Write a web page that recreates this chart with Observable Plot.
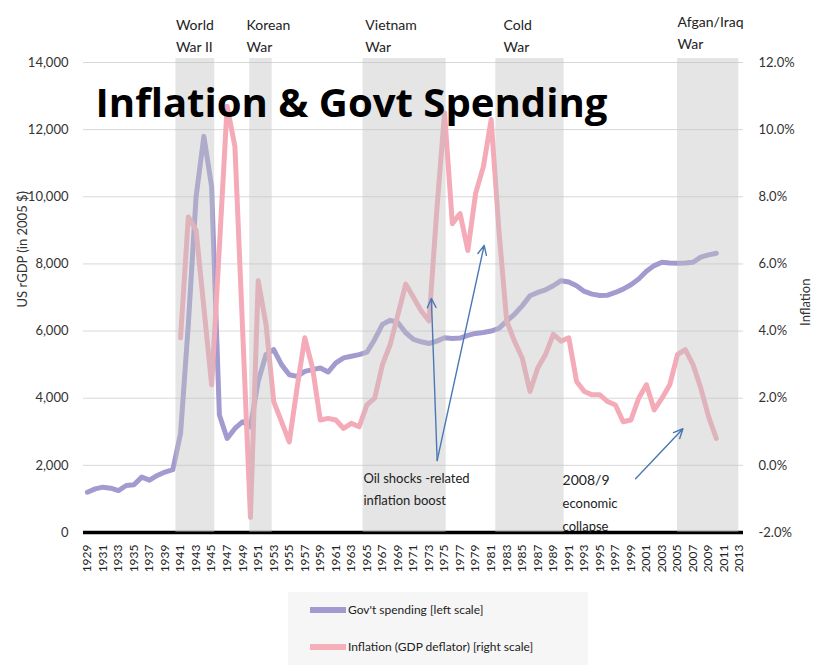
<!DOCTYPE html>
<html><head><meta charset="utf-8">
<script src="https://cdn.jsdelivr.net/npm/d3@7"></script>
<script src="https://cdn.jsdelivr.net/npm/@observablehq/plot@0.6"></script>
<style>
body{margin:0;background:#fff;font-family:Lato,"DejaVu Sans",sans-serif;}
#wrap{position:relative;width:817px;height:665px;overflow:hidden;}
#legend{position:absolute;left:288px;top:592px;width:300px;height:73px;background:#f6f6f6;font-size:12px;color:#222;}
.item{position:absolute;left:22px;display:flex;align-items:center;}
.sw{width:36px;height:6px;margin-right:2px;}
</style></head><body>
<div id="wrap"><div id="chart"></div>
<div id="legend">
<div class="item" style="top:10px"><div class="sw" style="background:#a29bd0"></div><span>Gov't spending [left scale]</span></div>
<div class="item" style="top:47px"><div class="sw" style="background:#f5b0bc"></div><span>Inflation (GDP deflator) [right scale]</span></div>
</div></div>
<script>
// ---- data ----
const spendStart = 1929;
const spending = [1200,1300,1350,1320,1250,1400,1420,1650,1560,1700,1800,1870, // 1929-1940
  2950,6200,10000,11800,10300,3500,2800,3100,3300,3150, // 1941-1950
  4500,5300,5450,5000,4700,4650,4800,4850,4900,4780, // 1951-1960
  5050,5200,5250,5300,5370,5750,6200,6320,6250,5950, // 1961-1970
  5750,5680,5630,5700,5800,5780,5790,5870,5930,5960, // 1971-1980
  6000,6080,6300,6500,6750,7050,7150,7230,7350,7500, // 1981-1990
  7460,7350,7180,7100,7060,7070,7150,7250,7380,7550, // 1991-2000
  7780,7950,8050,8030,8020,8030,8050,8200,8270,8320]; // 2001-2010
const inflStart = 1941;
const inflation = [3.8,7.4,7.0,4.7,2.4,6.5,10.7,9.5,4.0,-1.55, // 1941-1950
  5.5,4.2,1.9,1.3,0.7,2.3,3.8,2.9,1.35,1.4, // 1951-1960
  1.35,1.1,1.25,1.15,1.8,2.0,3.0,3.6,4.5,5.4, // 1961-1970
  5.0,4.6,4.3,7.6,10.5,7.2,7.5,6.4,8.1,8.9, // 1971-1980
  10.3,7.0,4.3,3.7,3.2,2.2,2.9,3.3,3.9,3.7, // 1981-1990
  3.8,2.5,2.2,2.1,2.1,1.9,1.8,1.3,1.35,2.0, // 1991-2000
  2.4,1.65,2.0,2.4,3.3,3.45,3.0,2.3,1.45,0.8]; // 2001-2010
const xTicks = d3.range(1929, 2014, 2);
const leftTicks = [0,2000,4000,6000,8000,10000,12000,14000];
const rightTickLabels = ["-2.0%","0.0%","2.0%","4.0%","6.0%","8.0%","10.0%","12.0%"];
const warStart = [1940.4, 1949.9, 1964.5, 1981.6, 2005.0];
const warEnd   = [1945.4, 1952.8, 1975.2, 1990.4, 2012.9];
const warLine1 = ["World","Korean","Vietnam","Cold","Afgan/Iraq"];
const warLine2 = ["War II","War","War","War","War"];
const warLabelX = [1940.4, 1949.5, 1964.8, 1982.6, 2005.0];
const arrowX1 = [1974.05, 1974.05, 1999.6];
const arrowY1 = [2146, 2146, 1600];
const arrowX2 = [1973.3, 1980.1, 2005.7];
const arrowY2 = [6975, 8554, 3090];
const noteText = ["Oil shocks -related","inflation boost","2008/9","economic","collapse"];
const noteX = [1964.55, 1964.55, 1990.2, 1990.2, 1990.2];
const noteY = [1608, 953, 1549, 864, 179];
const noteSize = [13, 13, 14, 13, 13];

// ---- tables ----
const spendData = spending.map((v,i)=>({year: spendStart+i, v}));
const inflData = inflation.map((p,i)=>({year: inflStart+i, v:(p+2)*1000}));
const wars = warStart.map((s,i)=>({s, e: warEnd[i], l1: warLine1[i], l2: warLine2[i], lx: warLabelX[i]}));
const arrows = arrowX1.map((x,i)=>({x1:x, y1:arrowY1[i], x2:arrowX2[i], y2:arrowY2[i]}));
const notes = noteText.map((t,i)=>({t, x: noteX[i], y: noteY[i], s: noteSize[i]}));
const pctOf = d => rightTickLabels[leftTicks.indexOf(d)];

const plot = Plot.plot({
  width: 817, height: 590,
  marginLeft: 83, marginRight: 74, marginTop: 62, marginBottom: 58,
  style: {fontFamily: "Lato, sans-serif", fontSize: "13px", color: "#333", overflow: "visible"},
  x: {domain: [1928.5, 2013.5]},
  y: {domain: [0, 14000]},
  marks: [
    Plot.gridY(leftTicks.filter(d=>d>0), {stroke: "#d8d8d8", strokeOpacity: 1}),
    Plot.ruleY([0], {stroke: "#000", strokeWidth: 3.5}),
    Plot.line(spendData, {x: "year", y: "v", stroke: "#a29bd0", strokeWidth: 5}),
    Plot.line(inflData, {x: "year", y: "v", stroke: "#f5aab8", strokeWidth: 5}),
    Plot.rect(wars, {x1: "s", x2: "e", y1: 0, y2: 14120, fill: "#c2c2c2", fillOpacity: 0.42}),
    Plot.axisX(xTicks, {tickRotate: -90, tickSize: 0, tickPadding: 12, tickFormat: d=>String(d), label: null, fontSize: 12, fill: "#222"}),
    Plot.axisY(leftTicks, {anchor: "left", tickSize: 0, tickPadding: 15, tickFormat: d3.format(","), label: null, fill: "#333"}),
    Plot.axisY(leftTicks, {anchor: "right", tickSize: 0, tickPadding: 15, tickFormat: pctOf, label: null, fill: "#333"}),
    Plot.text(["US rGDP (in 2005 $)"], {frameAnchor: "left", dx: -61, dy: 10, rotate: -90, fontSize: 13, fill: "#333"}),
    Plot.text(["Inflation"], {frameAnchor: "right", dx: 62, dy: -19, rotate: -90, fontSize: 13, fill: "#333"}),
    Plot.text(wars.slice(0,4), {x: "lx", text: "l1", frameAnchor: "top", dy: -42, textAnchor: "start", fontSize: 14, fill: "#222"}),
    Plot.text(wars.slice(0,4), {x: "lx", text: "l2", frameAnchor: "top", dy: -20, textAnchor: "start", fontSize: 14, fill: "#222"}),
    Plot.text(wars.slice(4), {x: "lx", text: "l1", frameAnchor: "top", dy: -45, textAnchor: "start", fontSize: 14, fill: "#222"}),
    Plot.text(wars.slice(4), {x: "lx", text: "l2", frameAnchor: "top", dy: -23, textAnchor: "start", fontSize: 14, fill: "#222"}),
    Plot.text(["Inflation & Govt Spending"], {frameAnchor: "top-left", dx: 12, dy: 26, fontSize: 40, fontWeight: "bold", fontFamily: "Open Sans", fill: "#000", textAnchor: "start"}),
    Plot.arrow(arrows, {x1: "x1", y1: "y1", x2: "x2", y2: "y2", stroke: "#4a78b4", strokeWidth: 1.4, headLength: 11, headAngle: 50}),
    Plot.text(notes, {x: "x", y: "y", text: "t", fontSize: "s", textAnchor: "start", fill: "#222"})
  ]
});
d3.select(plot).selectAll("text").filter(function(){return this.textContent === "Inflation & Govt Spending";})
  .attr("textLength", 512).attr("lengthAdjust", "spacingAndGlyphs");
document.getElementById("chart").appendChild(plot);
</script>
</body></html>
